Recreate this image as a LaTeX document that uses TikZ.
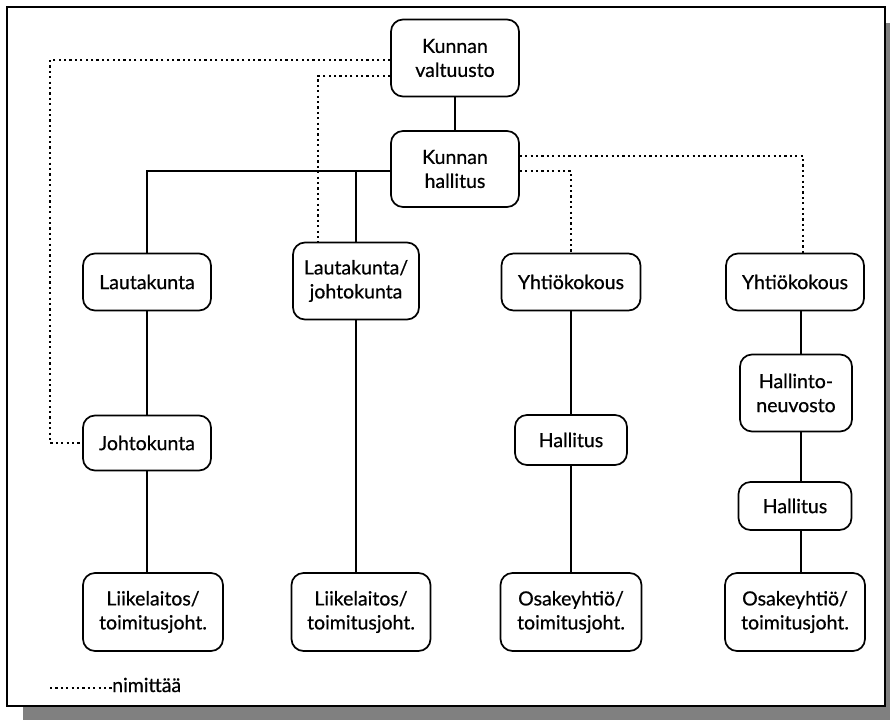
\documentclass[tikz,border=0pt]{standalone}
\usepackage{fontspec}
\setmainfont{Lato}[FakeBold=0.6]
\begin{document}
\begin{tikzpicture}[x=1pt,y=-1pt,
  box/.style={draw,line width=1.7pt,rounded corners=12pt,align=center,
    font=\fontsize{19.5}{24}\selectfont,inner sep=0pt},
  conn/.style={line width=1.5pt},
  dots/.style={line width=1.7pt,dash pattern=on 2.2pt off 3.2pt}]
\fill[white] (0,0) rectangle (890,720);
\useasboundingbox (0,0) rectangle (890,720);
% shadow and frame
\fill[black!50] (23,706) rectangle (890,720);
\fill[black!50] (885,23) rectangle (890,706);
\draw[line width=2pt] (7,7) rectangle (885,706);
% nodes
\node[box,minimum width=128pt,minimum height=77pt] (valt) at (455,58) {Kunnan\\valtuusto};
\node[box,minimum width=128pt,minimum height=76pt] (hall) at (455,169) {Kunnan\\hallitus};
\node[box,minimum width=128pt,minimum height=57pt] (laut) at (147,282) {Lautakunta};
\node[box,minimum width=126pt,minimum height=77pt] (lj) at (356,281) {Lautakunta/\\johtokunta};
\node[box,minimum width=139pt,minimum height=57pt] (yk1) at (571,282) {Yhtiökokous};
\node[box,minimum width=138pt,minimum height=57pt] (yk2) at (795,282) {Yhtiökokous};
\node[box,minimum width=128pt,minimum height=55pt] (johto) at (147,443) {Johtokunta};
\node[box,minimum width=112pt,minimum height=50pt] (hal1) at (571,440) {Hallitus};
\node[box,minimum width=112pt,minimum height=77pt] (hn) at (796,393) {Hallinto-\\neuvosto};
\node[box,minimum width=113pt,minimum height=48pt] (hal2) at (795,506) {Hallitus};
\node[box,minimum width=140pt,minimum height=78pt] (lii1) at (153,612) {Liikelaitos/\\toimitusjoht.};
\node[box,minimum width=139pt,minimum height=78pt] (lii2) at (361,612) {Liikelaitos/\\toimitusjoht.};
\node[box,minimum width=141pt,minimum height=78pt] (osa1) at (571,612) {Osakeyhtiö/\\toimitusjoht.};
\node[box,minimum width=140pt,minimum height=78pt] (osa2) at (795,612) {Osakeyhtiö/\\toimitusjoht.};
% helper coordinates
\coordinate (hw) at ([yshift=-2pt]hall.west);
\coordinate (he) at ([yshift=-2pt]hall.east);
\coordinate (he2) at ([yshift=13pt]hall.east);
\coordinate (vw) at ([yshift=-2pt]valt.west);
\coordinate (vw2) at ([yshift=-18pt]valt.west);
\coordinate (ljd) at ([xshift=-38pt]lj.north);
\coordinate (yk2s) at ([xshift=6pt]yk2.south);
\coordinate (yk2n) at ([xshift=8pt]yk2.north);
% solid connectors
\draw[conn] (valt) -- (hall);
\draw[conn] (hw) -| (laut.north);
\draw[conn] (lj.north) -- (lj.north |- hw);
\draw[conn] (laut) -- (johto);
\draw[conn] (johto.south) -- (johto.south |- lii1.north);
\draw[conn] (lj.south) -- (lj.south |- lii2.north);
\draw[conn] (yk1) -- (hal1);
\draw[conn] (hal1.south) -- (hal1.south |- osa1.north);
\draw[conn] (yk2s) -- (yk2s |- hn.north);
\draw[conn] (yk2s |- hn.south) -- (yk2s |- hal2.north);
\draw[conn] (yk2s |- hal2.south) -- (yk2s |- osa2.north);
% dotted connectors (nimittää)
\coordinate (cA) at (50,443);
\draw[dots] (vw) -| (cA) -- (johto.west);
\draw[dots] (vw2) -| (ljd);
\draw[dots] (he2) -| (yk2n);
\draw[dots] (he) -| (yk1.north);
% legend
\coordinate (lg1) at (50,688);
\node[anchor=base west,font=\fontsize{19.5}{24}\selectfont,inner sep=0pt] (lgt) at (112,692) {nimittää};
\draw[dots] (lg1) -- (lgt.west |- lg1);
\end{tikzpicture}
\end{document}
